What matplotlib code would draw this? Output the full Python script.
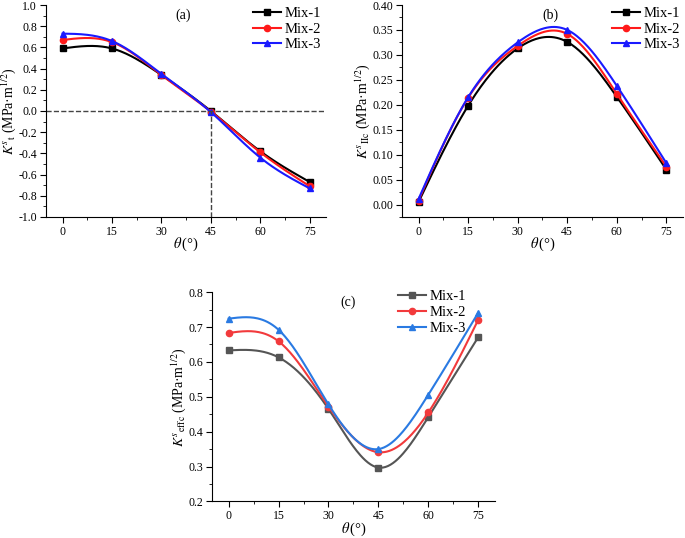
import matplotlib
matplotlib.use('Agg')
import matplotlib.pyplot as plt
from matplotlib.ticker import MultipleLocator
import numpy as np

plt.rcParams['font.family'] = ['Liberation Serif', 'DejaVu Serif']
plt.rcParams['mathtext.fontset'] = 'stix'

theta = [0, 15, 30, 45, 60, 75]
mixes = ['Mix-1', 'Mix-2', 'Mix-3']

# (a) K^s_t
kt_mix1 = [0.59, 0.59, 0.34, 0.0, -0.38, -0.67]
kt_mix2 = [0.67, 0.65, 0.34, -0.005, -0.39, -0.71]
kt_mix3 = [0.73, 0.66, 0.35, -0.01, -0.44, -0.73]

# (b) K^s_IIc
kii_mix1 = [0.005, 0.198, 0.313, 0.326, 0.216, 0.070]
kii_mix2 = [0.008, 0.214, 0.318, 0.342, 0.222, 0.076]
kii_mix3 = [0.011, 0.215, 0.325, 0.350, 0.238, 0.083]

# (c) K^s_effc
keff_mix1 = [0.633, 0.613, 0.465, 0.297, 0.442, 0.671]
keff_mix2 = [0.683, 0.659, 0.472, 0.341, 0.455, 0.721]
keff_mix3 = [0.724, 0.692, 0.478, 0.350, 0.506, 0.741]

markers = ['s', 'o', '^']
colors_ab = ['black', '#ff1a1a', '#1a1aff']
colors_c = ['#555555', '#f23a3c', '#2a7ae2']


def spline(x, y, n=200):
    # natural cubic spline through the data points (smooth connecting line)
    x = np.asarray(x, float)
    y = np.asarray(y, float)
    h = np.diff(x)
    m = len(x)
    A = np.zeros((m, m))
    r = np.zeros(m)
    A[0, 0] = A[-1, -1] = 1
    for i in range(1, m - 1):
        A[i, i - 1] = h[i - 1]
        A[i, i] = 2 * (h[i - 1] + h[i])
        A[i, i + 1] = h[i]
        r[i] = 6 * ((y[i + 1] - y[i]) / h[i] - (y[i] - y[i - 1]) / h[i - 1])
    M = np.linalg.solve(A, r)
    xs = np.linspace(x[0], x[-1], n)
    idx = np.clip(np.searchsorted(x, xs) - 1, 0, m - 2)
    x0, x1 = x[idx], x[idx + 1]
    hh = x1 - x0
    ys = (M[idx] * (x1 - xs) ** 3 / (6 * hh) + M[idx + 1] * (xs - x0) ** 3 / (6 * hh)
          + (y[idx] / hh - M[idx] * hh / 6) * (x1 - xs)
          + (y[idx + 1] / hh - M[idx + 1] * hh / 6) * (xs - x0))
    return xs, ys


def style(ax, ylim, ymaj, ymin, fmt):
    for s in ['top', 'right']:
        ax.spines[s].set_visible(False)
    ax.set_xlim(-5, 80)
    ax.set_ylim(*ylim)
    ax.set_xticks(theta)
    ax.xaxis.set_minor_locator(MultipleLocator(7.5))
    ax.yaxis.set_major_locator(MultipleLocator(ymaj))
    ax.yaxis.set_minor_locator(MultipleLocator(ymin))
    ax.yaxis.set_major_formatter(plt.FormatStrFormatter(fmt))
    ax.tick_params(which='major', direction='out', length=4, labelsize=8.5, pad=2.5)
    ax.tick_params(which='minor', direction='out', length=2.5)
    ax.set_xlabel(r'$\theta\,$(°)', fontsize=10.5, labelpad=-1.5)


def draw(ax, series, colors):
    for ys, c, mk, lab in zip(series, colors, markers, mixes):
        xs, ss = spline(theta, ys)
        ax.plot(xs, ss, color=c, lw=1.5)
        ax.plot(theta, ys, color=c, marker=mk, ms=4.5, ls='none')
        ax.plot([], [], color=c, marker=mk, ms=4.5, lw=1.5, label=lab)


def legend(ax, px, py, spacing=0.15):
    # upper-left corner of the legend given in figure pixels
    ax.legend(loc='upper left', bbox_to_anchor=(px / 685, 1 - py / 538),
              bbox_transform=fig.transFigure, frameon=False, fontsize=10.5,
              handlelength=1.9, labelspacing=spacing, handletextpad=0.3,
              borderpad=0, borderaxespad=0)


fig = plt.figure(figsize=(6.85, 5.38), dpi=100)

ax1 = fig.add_axes([0.0672, 0.5967, 0.409, 0.394])
draw(ax1, [kt_mix1, kt_mix2, kt_mix3], colors_ab)
ax1.axhline(0, color='#444444', ls='--', lw=1)
ax1.plot([45, 45], [-1.0, 0], color='#444444', ls='--', lw=1)
style(ax1, (-1.0, 1.0), 0.2, 0.1, '%.1f')
ax1.set_ylabel(r'$K^{s}{}_{\mathrm{t}}$ (MPa·m$^{1/2}$)', fontsize=10, labelpad=0)
ax1.text(0.49, 0.95, '(a)', transform=ax1.transAxes, ha='center', va='center', fontsize=10)
legend(ax1, 253, 7)

ax2 = fig.add_axes([0.5869, 0.5967, 0.410, 0.394])
draw(ax2, [kii_mix1, kii_mix2, kii_mix3], colors_ab)
style(ax2, (-0.025, 0.40), 0.05, 0.025, '%.2f')
ax2.set_ylabel(r'$K^{s}{}_{\mathrm{IIc}}$ (MPa·m$^{1/2}$)', fontsize=10, labelpad=0)
ax2.text(0.53, 0.95, '(b)', transform=ax2.transAxes, ha='center', va='center', fontsize=10)
legend(ax2, 612, 7)

ax3 = fig.add_axes([0.3095, 0.068, 0.413, 0.389])
draw(ax3, [keff_mix1, keff_mix2, keff_mix3], colors_c)
style(ax3, (0.2, 0.8), 0.1, 0.05, '%.1f')
ax3.set_ylabel(r'$K^{s}{}_{\mathrm{effc}}$ (MPa·m$^{1/2}$)', fontsize=10, labelpad=0)
ax3.text(0.48, 0.95, '(c)', transform=ax3.transAxes, ha='center', va='center', fontsize=10)
legend(ax3, 398, 290, spacing=0.2)

fig.savefig('out.png', dpi=100)
